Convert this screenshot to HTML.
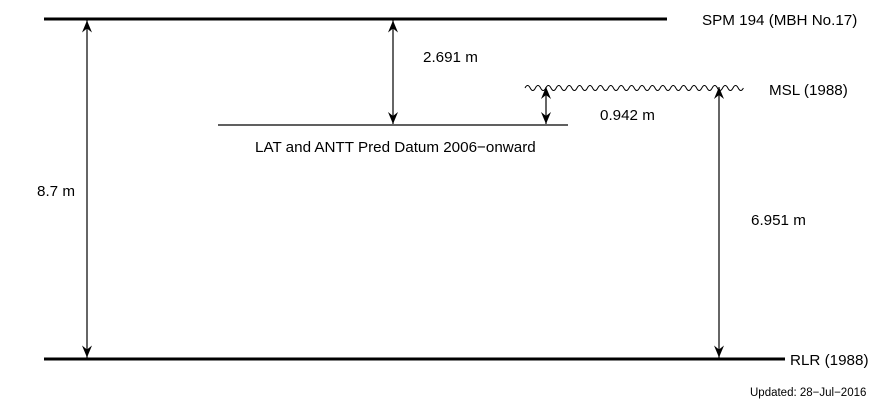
<!DOCTYPE html>
<html><head><style>body{margin:0;background:#fff}svg{display:block}text{font-family:"Liberation Sans",sans-serif;font-size:15.2px;fill:#000}</style></head>
<body>
<svg width="875" height="400" viewBox="0 0 875 400">
<defs><marker id="a" viewBox="0 0 12 10" refX="12" refY="5" markerWidth="12" markerHeight="10" markerUnits="userSpaceOnUse" orient="auto-start-reverse"><path d="M0,0 L12,5 L0,10 L4,5 z" fill="#000"/></marker></defs>
<line x1="44" y1="19" x2="667" y2="19" stroke="#000" stroke-width="3"/>
<line x1="44" y1="359" x2="785" y2="359" stroke="#000" stroke-width="3"/>
<line x1="218" y1="125" x2="568" y2="125" stroke="#000" stroke-width="1.2"/>
<path d="M525,88 q2.6,-5 5.2,0 t5.2,0 t5.2,0 t5.2,0 t5.2,0 t5.2,0 t5.2,0 t5.2,0 t5.2,0 t5.2,0 t5.2,0 t5.2,0 t5.2,0 t5.2,0 t5.2,0 t5.2,0 t5.2,0 t5.2,0 t5.2,0 t5.2,0 t5.2,0 t5.2,0 t5.2,0 t5.2,0 t5.2,0 t5.2,0 t5.2,0 t5.2,0 t5.2,0 t5.2,0 t5.2,0 t5.2,0 t5.2,0 t5.2,0 t5.2,0 t5.2,0 t5.2,0 t5.2,0 t5.2,0 t5.2,0 t5.2,0 t5.2,0" fill="none" stroke="#000" stroke-width="1"/>
<g stroke="#000" stroke-width="1.2" marker-start="url(#a)" marker-end="url(#a)">
<line x1="87" y1="20.5" x2="87" y2="357.5"/>
<line x1="393" y1="20.5" x2="393" y2="124"/>
<line x1="546" y1="87" x2="546" y2="124"/>
<line x1="719" y1="87" x2="719" y2="357.5"/>
</g>
<text x="702" y="25">SPM 194 (MBH No.17)</text>
<text x="423" y="62">2.691 m</text>
<text x="769" y="95">MSL (1988)</text>
<text x="600" y="120">0.942 m</text>
<text x="255" y="152">LAT and ANTT Pred Datum 2006−onward</text>
<text x="37" y="196">8.7 m</text>
<text x="751" y="225">6.951 m</text>
<text x="790" y="365">RLR (1988)</text>
<text x="750" y="396" style="font-size:11.5px">Updated: 28−Jul−2016</text>
</svg>
</body></html>
